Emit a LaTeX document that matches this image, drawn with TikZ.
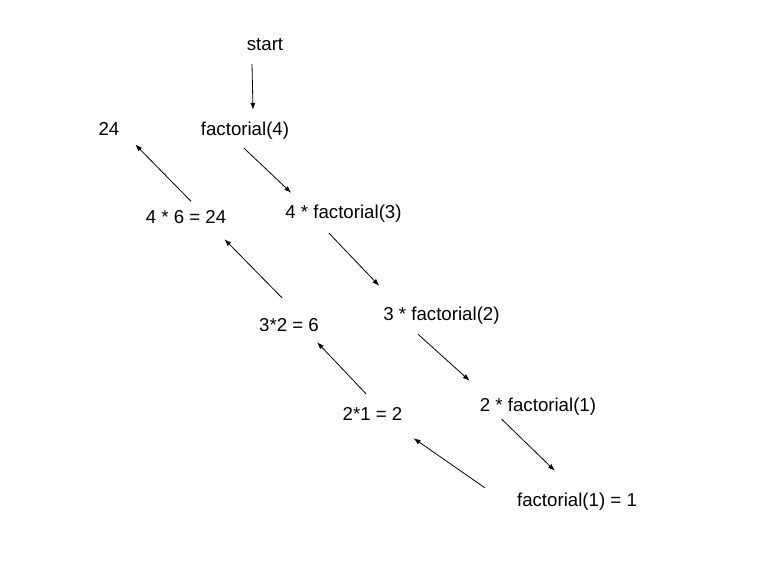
\documentclass[tikz,border=0pt]{standalone}
\usepackage{fontspec}
\setmainfont{Liberation Sans}
\usetikzlibrary{arrows.meta}
\tikzset{
    every node/.style={font=\fontsize{18.67}{22}\selectfont},
    txt/.style={anchor=base, inner sep=0pt, text height=14pt, text depth=4pt},
    arrow/.style={-{Latex[length=7pt,width=5pt]}, line width=0.8pt},
}
\begin{document}
\begin{tikzpicture}[x=1pt,y=-1pt]
\useasboundingbox[fill=white] (0,0) rectangle (768,575);

% calls going down
\node[txt] (start) at (265,51) {start};
\node[txt] (fact4) at (245,135.5) {factorial(4)};
\node[txt] (fact3) at (343.5,218.5) {4 * factorial(3)};
\node[txt] (fact2) at (441.5,320) {3 * factorial(2)};
\node[txt] (fact1) at (538,411) {2 * factorial(1)};
\node[txt] (base) at (577,506) {factorial(1) = 1};

% results going back up
\node[txt] (mul2) at (372.5,420) {2*1 = 2};
\node[txt] (mul6) at (289,331.5) {3*2 = 6};
\node[txt] (mul24) at (186,223.5) {4 * 6 = 24};
\node[txt] (res24) at (109,135.5) {24};

%=========================
% Arrows
%=========================
\draw[arrow] ([shift={(-13,9)}]start.south) -- ([shift={(8,-11.5)}]fact4.north);
\draw[arrow] ([shift={(-1,8.5)}]fact4.south) -- ([shift={(6,-11.5)}]fact3.north west);
\draw[arrow] ([shift={(-14.5,10.5)}]fact3.south) -- ([shift={(-4,-20)}]fact2.north west);
\draw[arrow] ([shift={(-23.5,10)}]fact2.south) -- ([shift={(-10,-16)}]fact1.north west);
\draw[arrow] ([shift={(22,4)}]fact1.south west) -- ([shift={(38,-21)}]base.north west);

\draw[arrow] ([shift={(-32,-4)}]base.north west) -- ([shift={(11,14)}]mul2.south east);
\draw[arrow] ([shift={(-6.5,-12)}]mul2.north) -- ([shift={(-2,6.5)}]mul6.south east);
\draw[arrow] ([shift={(-7,-19.5)}]mul6.north) -- ([shift={(-2,11.5)}]mul24.south east);
\draw[arrow] ([shift={(5,-8)}]mul24.north) -- ([shift={(15.7,4.8)}]res24.south east);

\end{tikzpicture}
\end{document}
